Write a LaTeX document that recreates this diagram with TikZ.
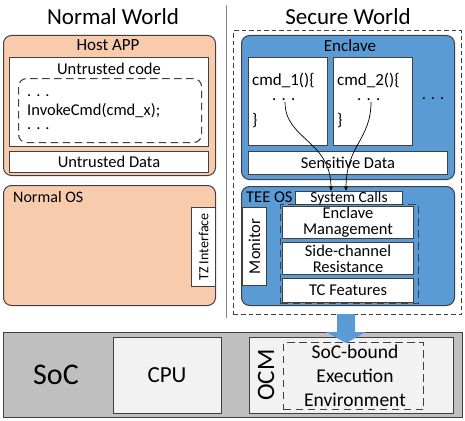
\documentclass[tikz,border=0pt]{standalone}
\usepackage{fontspec}
\setmainfont{Carlito}
\usetikzlibrary{arrows.meta,calc}
\definecolor{peach}{HTML}{F8CBAD}
\definecolor{eblue}{HTML}{5B9BD5}
\definecolor{socgray}{HTML}{BFBFBF}
\definecolor{lightbox}{HTML}{F2F2F2}
\definecolor{edge}{HTML}{404040}
\newcommand\fsz[2]{\fontsize{#1}{#2}\selectfont}
\begin{document}
\begin{tikzpicture}[x=1pt,y=-1pt,
 box/.style={draw=edge, line width=1pt, inner sep=0pt, anchor=north west},
 lbl/.style={inner sep=0pt, text=black},
 t15/.style={font=\fsz{16.5}{18}},
 dots/.style={inner sep=0pt, text=black, font=\fsz{16.5}{18}, text height=2pt, text depth=0pt},
 longdash/.style={dash pattern=on 7.5pt off 4.5pt, line width=1.1pt},
 shortdash/.style={dash pattern=on 4.5pt off 3pt, line width=1.1pt},
 flow/.style={-{Stealth[length=5pt,width=4pt]}, line width=0.7pt, black},
]
\useasboundingbox (0,0) rectangle (465,420);

% titles
\node[lbl, font=\fsz{23}{26}] (nw) at (113,17) {Normal World};
\node[lbl, font=\fsz{23}{26}] (sw) at (348,17) {Secure World};
\draw[black!45, line width=0.9pt] (226,5) -- (226,318);

% ---------- Normal world ----------
\node[box, fill=peach, rounded corners=8pt, minimum width=212pt, minimum height=140pt] (host) at (3,35) {};
\node[lbl, font=\fsz{17}{19}] (hostl) at (108,45) {Host APP};
\node[box, fill=white, minimum width=199pt, minimum height=89pt] (ucode) at (9,57) {};
\node[lbl, t15] (ucodel) at (109,69) {Untrusted code};
\node[box, longdash, rounded corners=8pt, minimum width=183pt, minimum height=64pt] (cblk) at (18,78) {};
\node[lbl, font=\fsz{16.5}{17}, align=left, anchor=base west] (code) at (27,129)
  {. . .\\[2pt]InvokeCmd(cmd\_x);\\[-3pt]. . .};
\node[box, fill=white, minimum width=199pt, minimum height=21pt] (udata) at (9,151) {};
\node[lbl, t15] (udatal) at (udata.center) {Untrusted Data};

\node[box, fill=peach, rounded corners=8pt, minimum width=212pt, minimum height=120pt] (nos) at (3,185) {};
\node[lbl, font=\fsz{16}{18}, anchor=west] (nosl) at (13,197) {Normal OS};
\node[box, fill=white, minimum width=24pt, minimum height=79pt] (tz) at (191,207) {};
\node[lbl, font=\fsz{14}{16}, rotate=90] (tzl) at (tz.center) {TZ Interface};

% ---------- Secure world ----------
\node[box, draw=edge, shortdash, minimum width=228pt, minimum height=284pt] (sec) at (233,30) {};

\node[box, fill=eblue, rounded corners=8pt, minimum width=213pt, minimum height=144pt] (encl) at (241,35) {};
\node[lbl, font=\fsz{17}{19}] (enclt) at (350,46) {Enclave};
\node[box, fill=white, minimum width=79pt, minimum height=88pt] (cmdA) at (248,57) {};
\node[box, fill=white, minimum width=79pt, minimum height=88pt] (cmdB) at (333,57) {};
\node[lbl, font=\fsz{17}{18}, align=left, anchor=base west] (cmdAl) at (252,125)
  {cmd\_1()\{\\[-3pt]\hspace*{20pt}. . .\\[7pt]\}};
\node[lbl, font=\fsz{17}{18}, align=left, anchor=base west] (cmdBl) at (337,125)
  {cmd\_2()\{\\[-3pt]\hspace*{20pt}. . .\\[7pt]\}};
\coordinate (dA) at (285,102);
\coordinate (dB) at (371,102);
\node[dots, anchor=base] (dC) at (433,99) {. . .};
\node[box, fill=white, minimum width=199pt, minimum height=23pt] (sdata) at (248,151) {};
\node[lbl, t15] (sdatal) at (sdata.center) {Sensitive Data};

\node[box, fill=eblue, rounded corners=8pt, minimum width=213pt, minimum height=119pt] (tee) at (241,186) {};
\node[lbl, t15, anchor=west] (teel) at (246,197) {TEE OS};
\node[box, fill=white, minimum width=24pt, minimum height=78pt] (mon) at (242,207) {};
\node[lbl, font=\fsz{16.5}{19}, rotate=90] (monl) at (mon.center) {Monitor};
\node[box, longdash, minimum width=138pt, minimum height=99pt] (svc) at (280,204) {};
\node[box, fill=white, minimum width=107pt, minimum height=13pt] (sys) at (295,191) {};
\node[lbl, font=\fsz{15.5}{16}] (sysl) at (sys.center) {System Calls};
\node[box, fill=white, minimum width=131pt, minimum height=32pt] (em) at (282,206) {};
\node[lbl, align=center, font=\fsz{16.5}{16}] (eml) at (em.center) {Enclave\\Management};
\node[box, fill=white, minimum width=131pt, minimum height=32pt] (scr) at (282,242) {};
\node[lbl, align=center, font=\fsz{16.5}{16}] (scrl) at (scr.center) {Side-channel\\Resistance};
\node[box, fill=white, minimum width=131pt, minimum height=24pt] (tcf) at (282,278) {};
\node[lbl, t15] (tcfl) at (tcf.center) {TC Features};

\coordinate (sA) at (331,191);
\coordinate (sB) at (346,191);
\draw[flow] (dA) .. controls (285,140) and (331,140) .. (sA);
\draw[flow] (dB) .. controls (371,140) and (346,145) .. (sB);

% ---------- SoC ----------
\node[box, fill=socgray, minimum width=459pt, minimum height=85pt] (soc) at (3,332) {};
\node[lbl, font=\fsz{30}{33}] (socl) at (56,375) {SoC};
\node[box, fill=lightbox, minimum width=108pt, minimum height=76pt] (cpu) at (113,337) {};
\node[lbl, font=\fsz{23}{26}] (cpul) at (167,375) {CPU};
\node[box, fill=lightbox, minimum width=204pt, minimum height=76pt] (ocm) at (249,337) {};
\node[lbl, font=\fsz{25}{28}, rotate=90] (ocml) at (266,375) {OCM};
\node[box, draw=edge, longdash, minimum width=140pt, minimum height=67pt] (sbee) at (283,342) {};
\node[lbl, font=\fsz{19.5}{24}, align=center] (sbeel) at (355,376) {SoC-bound\\Execution\\Environment};

% big arrow
\fill[eblue] (337,314) -- (355,314) -- (355,332) -- (366,332) -- (346,343) -- (326,332) -- (337,332) -- cycle;
\end{tikzpicture}
\end{document}
